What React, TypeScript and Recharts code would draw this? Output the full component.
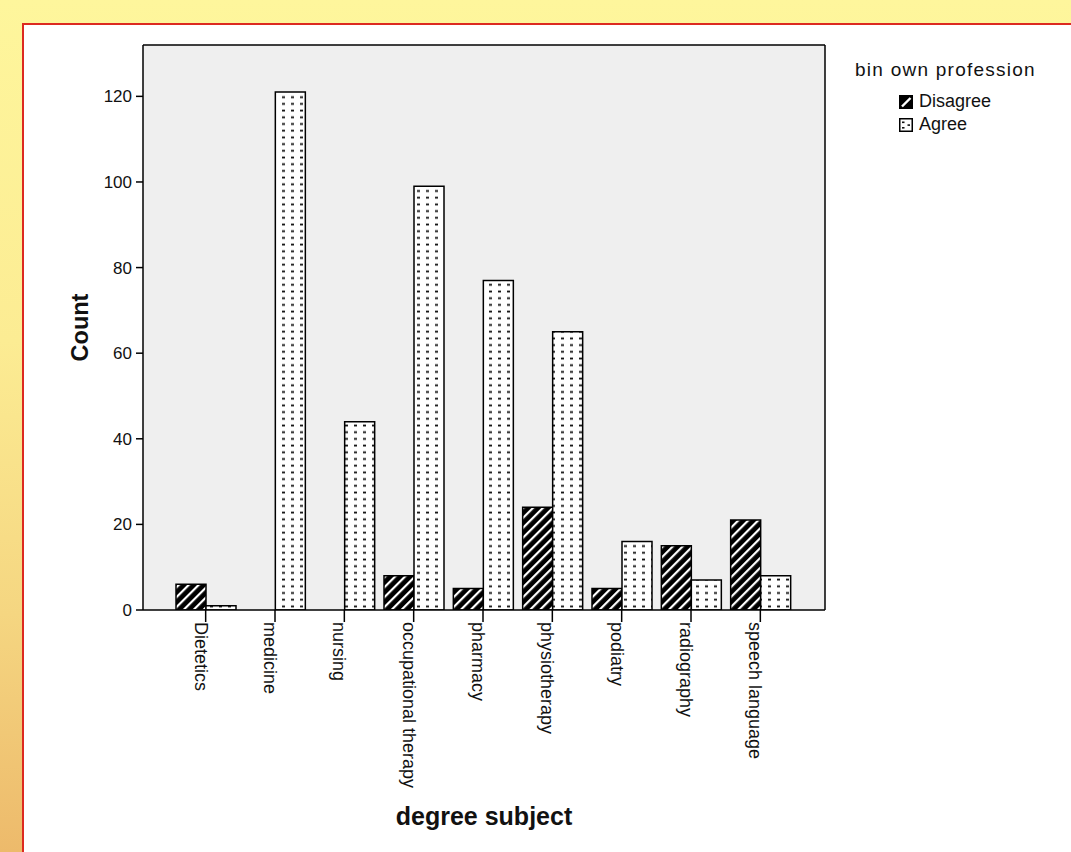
import { BarChart, Bar, XAxis, YAxis, CartesianGrid } from "recharts";

// degree subject categories and counts per response
const subjects = [
  "Dietetics",
  "medicine",
  "nursing",
  "occupational therapy",
  "pharmacy",
  "physiotherapy",
  "podiatry",
  "radiography",
  "speech language",
];
const disagreeCounts = [6, 0, 0, 8, 5, 24, 5, 15, 21];
const agreeCounts = [1, 121, 44, 99, 77, 65, 16, 7, 8];
const yTicks = [0, 20, 40, 60, 80, 100, 120];
const seriesNames = ["Disagree", "Agree"];
const legendTitle = "bin own profession";

const FONT = "'Liberation Sans', Arial, Helvetica, sans-serif";

const data = subjects.map((subject, i) => ({
  subject,
  Disagree: disagreeCounts[i],
  Agree: agreeCounts[i],
}));

function SubjectTick({ x, y, payload }: any) {
  return (
    <text
      transform={`translate(${x - 5},${y}) rotate(90)`}
      textAnchor="start"
      dominantBaseline="central"
      fontSize={18}
      fontFamily={FONT}
      fill="#111"
    >
      {payload.value}
    </text>
  );
}

function CountLabel({ viewBox }: any) {
  const cx = viewBox.x + 37;
  const cy = viewBox.y + viewBox.height / 2;
  return (
    <text
      x={cx}
      y={cy}
      transform={`rotate(-90 ${cx} ${cy})`}
      textAnchor="middle"
      dominantBaseline="central"
      fontSize={23.5}
      fontWeight="bold"
      fontFamily={FONT}
      fill="#111"
    >
      Count
    </text>
  );
}

function SubjectLabel({ viewBox }: any) {
  const cx = viewBox.x + viewBox.width / 2;
  const cy = viewBox.y + 206;
  return (
    <text
      x={cx}
      y={cy}
      textAnchor="middle"
      dominantBaseline="central"
      fontSize={25}
      fontWeight="bold"
      fontFamily={FONT}
      fill="#111"
    >
      degree subject
    </text>
  );
}

function Swatch({ kind }: { kind: string }) {
  return (
    <svg width={14} height={14} style={{ display: "block" }}>
      {kind === "Disagree" ? (
        <>
          <rect x={0.75} y={0.75} width={12.5} height={12.5} fill="#000" stroke="#000" strokeWidth={1.5} />
          <line x1={3} y1={11.5} x2={11.5} y2={3} stroke="#fff" strokeWidth={2.4} />
        </>
      ) : (
        <>
          <rect x={0.75} y={0.75} width={12.5} height={12.5} fill="#fff" stroke="#000" strokeWidth={1.5} />
          <rect x={3} y={3.5} width={2.5} height={1.6} fill="#111" />
          <rect x={3} y={9} width={2.5} height={1.6} fill="#111" />
          <rect x={8.5} y={6.3} width={2.5} height={1.6} fill="#111" />
        </>
      )}
    </svg>
  );
}

export default function App() {
  return (
    <div
      style={{
        position: "absolute",
        left: 0,
        top: 0,
        width: 1071,
        height: 852,
        overflow: "hidden",
        background:
          "linear-gradient(180deg, #fef69c 0%, #fcec93 40%, #f5d681 72%, #edba6b 100%)",
      }}
    >
      <div
        style={{
          position: "absolute",
          left: 22,
          top: 23,
          width: 1071,
          height: 852,
          background: "#fff",
          borderLeft: "2.5px solid #dc2a20",
          borderTop: "2.5px solid #dc2a20",
        }}
      />
      <div style={{ position: "absolute", left: 0, top: 0 }}>
        <BarChart
          width={1071}
          height={852}
          data={data}
          margin={{ top: 44, right: 245, bottom: 20, left: 43 }}
          barCategoryGap={5}
          barGap={0}
        >
          <defs>
            <pattern
              id="hatch"
              patternUnits="userSpaceOnUse"
              width={7}
              height={7}
              patternTransform="rotate(45)"
            >
              <rect width={7} height={7} fill="#000" />
              <rect x={0} y={0} width={2.2} height={7} fill="#fff" />
            </pattern>
            <pattern id="dots" patternUnits="userSpaceOnUse" width={9} height={6.7}>
              <rect width={9} height={6.7} fill="#fff" />
              <rect x={3} y={2.5} width={3} height={1.8} fill="#111" />
            </pattern>
          </defs>
          <CartesianGrid fill="#efefef" horizontal={false} vertical={false} />
          <XAxis
            dataKey="subject"
            height={222}
            interval={0}
            padding={{ left: 28, right: 30 }}
            axisLine={{ stroke: "#000", strokeWidth: 1.5 }}
            tickLine={{ stroke: "#000", strokeWidth: 1.5 }}
            tickSize={12}
            tickMargin={0}
            tick={<SubjectTick />}
            label={<SubjectLabel />}
          />
          <XAxis
            xAxisId="top"
            dataKey="subject"
            orientation="top"
            height={1}
            tick={false}
            tickLine={false}
            axisLine={{ stroke: "#000", strokeWidth: 1.5 }}
          />
          <YAxis
            width={100}
            domain={[0, 132]}
            ticks={yTicks}
            allowDataOverflow
            axisLine={{ stroke: "#000", strokeWidth: 1.5 }}
            tickLine={{ stroke: "#000", strokeWidth: 1.5 }}
            tickSize={7}
            tickMargin={4}
            tick={{ fontSize: 17, fill: "#111", fontFamily: FONT }}
            label={<CountLabel />}
          />
          <YAxis
            yAxisId="right"
            orientation="right"
            width={1}
            domain={[0, 132]}
            tick={false}
            tickLine={false}
            axisLine={{ stroke: "#000", strokeWidth: 1.5 }}
          />
          <Bar
            dataKey="Disagree"
            name={seriesNames[0]}
            fill="url(#hatch)"
            stroke="#000"
            strokeWidth={1.5}
            isAnimationActive={false}
          />
          <Bar
            dataKey="Agree"
            name={seriesNames[1]}
            fill="url(#dots)"
            stroke="#000"
            strokeWidth={1.5}
            isAnimationActive={false}
          />
        </BarChart>
      </div>
      <div
        style={{
          position: "absolute",
          left: 855,
          top: 58,
          fontFamily: FONT,
          color: "#111",
        }}
      >
        <div style={{ fontSize: 19, letterSpacing: 1.25, lineHeight: "24px" }}>{legendTitle}</div>
        <div style={{ marginLeft: 44, marginTop: 8 }}>
          {seriesNames.map((name) => (
            <div
              key={name}
              style={{ display: "flex", alignItems: "center", height: 23, fontSize: 18 }}
            >
              <Swatch kind={name} />
              <span style={{ marginLeft: 6 }}>{name}</span>
            </div>
          ))}
        </div>
      </div>
    </div>
  );
}
